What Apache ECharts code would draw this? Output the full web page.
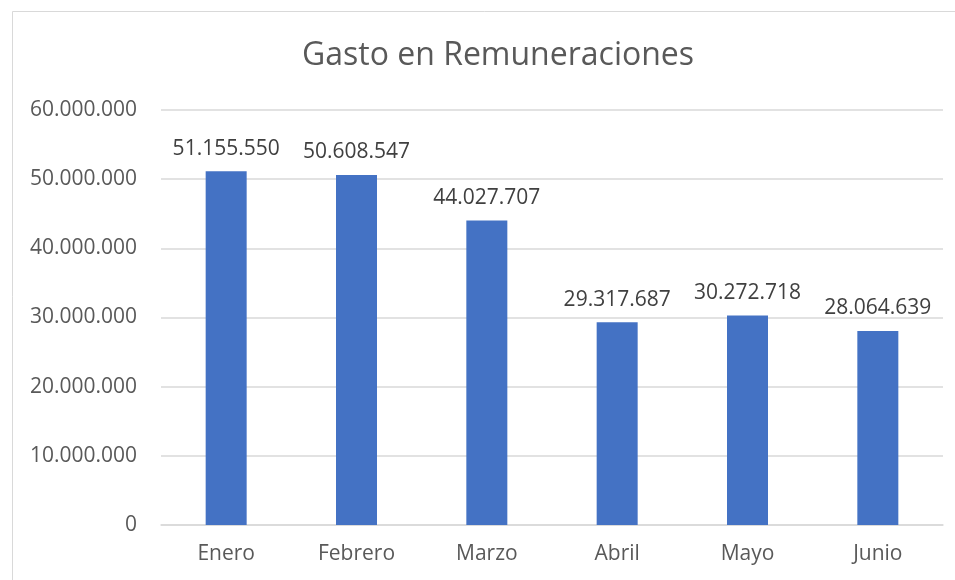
<!DOCTYPE html>
<html>
<head>
<meta charset="utf-8">
<script src="https://cdn.jsdelivr.net/npm/echarts@6/dist/echarts.min.js"></script>
<style>
  html, body { margin: 0; padding: 0; background: #fff; }
  #chart { width: 955px; height: 580px; }
</style>
</head>
<body>
<div id="chart"></div>
<script>
var meses = ['Enero', 'Febrero', 'Marzo', 'Abril', 'Mayo', 'Junio'];
var gasto = [51155550, 50608547, 44027707, 29317687, 30272718, 28064639];
var yTicks = [0, 10000000, 20000000, 30000000, 40000000, 50000000, 60000000];

function fmt(v) {
	return String(Math.round(v)).replace(/\B(?=(\d{3})+(?!\d))/g, '.');
}

var chart = echarts.init(document.getElementById('chart'));
chart.setOption({
	backgroundColor: '#fff',
	textStyle: { fontFamily: 'Open Sans' },
	title: {
		text: 'Gasto en Remuneraciones',
		left: 493,
		top: 35,
		textAlign: 'center',
		textStyle: { fontSize: 32, fontWeight: 'normal', color: '#595959', fontFamily: 'Open Sans' }
	},
	graphic: [{
		type: 'rect',
		shape: { x: 12.5, y: 11.5, width: 1000, height: 1000 },
		style: { fill: 'none', stroke: '#d9d9d9', lineWidth: 1 },
		silent: true
	}],
	grid: { left: 161, right: 12, top: 110, bottom: 55, containLabel: false },
	xAxis: {
		type: 'category',
		data: meses,
		axisLine: { lineStyle: { color: '#d9d9d9', width: 1.5 } },
		axisTick: { show: false },
		axisLabel: { color: '#595959', fontSize: 21, margin: 19 }
	},
	yAxis: {
		type: 'value',
		min: yTicks[0],
		max: yTicks[yTicks.length - 1],
		interval: 10000000,
		axisLine: { show: false },
		axisTick: { show: false },
		splitLine: { lineStyle: { color: '#d9d9d9', width: 1.5 } },
		axisLabel: { color: '#595959', fontSize: 21, margin: 24, formatter: fmt }
	},
	series: [{
		type: 'bar',
		data: gasto,
		barWidth: 41,
		itemStyle: { color: '#4472C4' },
		label: {
			show: true,
			position: 'top',
			distance: 12,
			color: '#404040',
			fontSize: 21,
			formatter: function (p) { return fmt(p.value); }
		}
	}]
});
</script>
</body>
</html>
